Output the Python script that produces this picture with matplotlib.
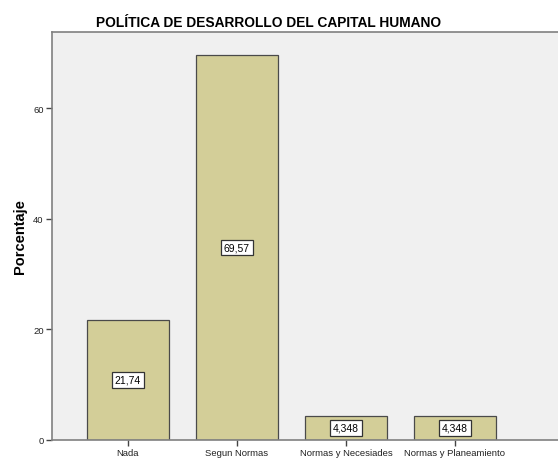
import matplotlib
matplotlib.use("Agg")
import matplotlib.pyplot as plt

categories = ["Nada", "Segun Normas", "Normas y Necesiades", "Normas y Planeamiento"]
values = [21.74, 69.57, 4.348, 4.348]
value_labels = ["21,74", "69,57", "4,348", "4,348"]
yticks = [0, 20, 40, 60]

plt.rcParams["font.family"] = ["Liberation Sans", "DejaVu Sans"]

fig = plt.figure(figsize=(5.58, 4.60), dpi=100)
ax = fig.add_axes([52 / 558, 1 - 441 / 460, 506 / 558, 408 / 460])
ax.set_facecolor("#F0F0F0")

x = list(range(len(categories)))
ax.bar(x, values, width=0.75, color="#D3CE98", edgecolor="#4a4a4a", linewidth=0.9, zorder=2)

for xi, v, lab in zip(x, values, value_labels):
    ax.text(xi, v / 2, lab, ha="center", va="center", fontsize=7.5, color="black", zorder=3,
            bbox=dict(boxstyle="square,pad=0.25", facecolor="white", edgecolor="#333333", linewidth=0.9))

ax.set_xlim(-0.697, 3.945)
ax.set_ylim(0, 73.8)
ax.set_yticks(yticks)
ax.set_xticks(x)
ax.set_xticklabels(categories)

ax.spines["right"].set_visible(False)
for side in ["left", "bottom", "top"]:
    ax.spines[side].set_color("#808080")
    ax.spines[side].set_linewidth(1.2)

ax.tick_params(axis="both", labelsize=6.8, color="#444444", length=4, width=1, pad=2, labelcolor="#222222")
ax.set_ylabel("Porcentaje", fontsize=10.5, fontweight="bold", labelpad=4)

fig.text(269 / 558, 1 - 23 / 460, "POLÍTICA DE DESARROLLO DEL CAPITAL HUMANO",
         ha="center", va="center", fontsize=9.9, fontweight="bold")

fig.savefig("out.png", dpi=100, facecolor="white")
